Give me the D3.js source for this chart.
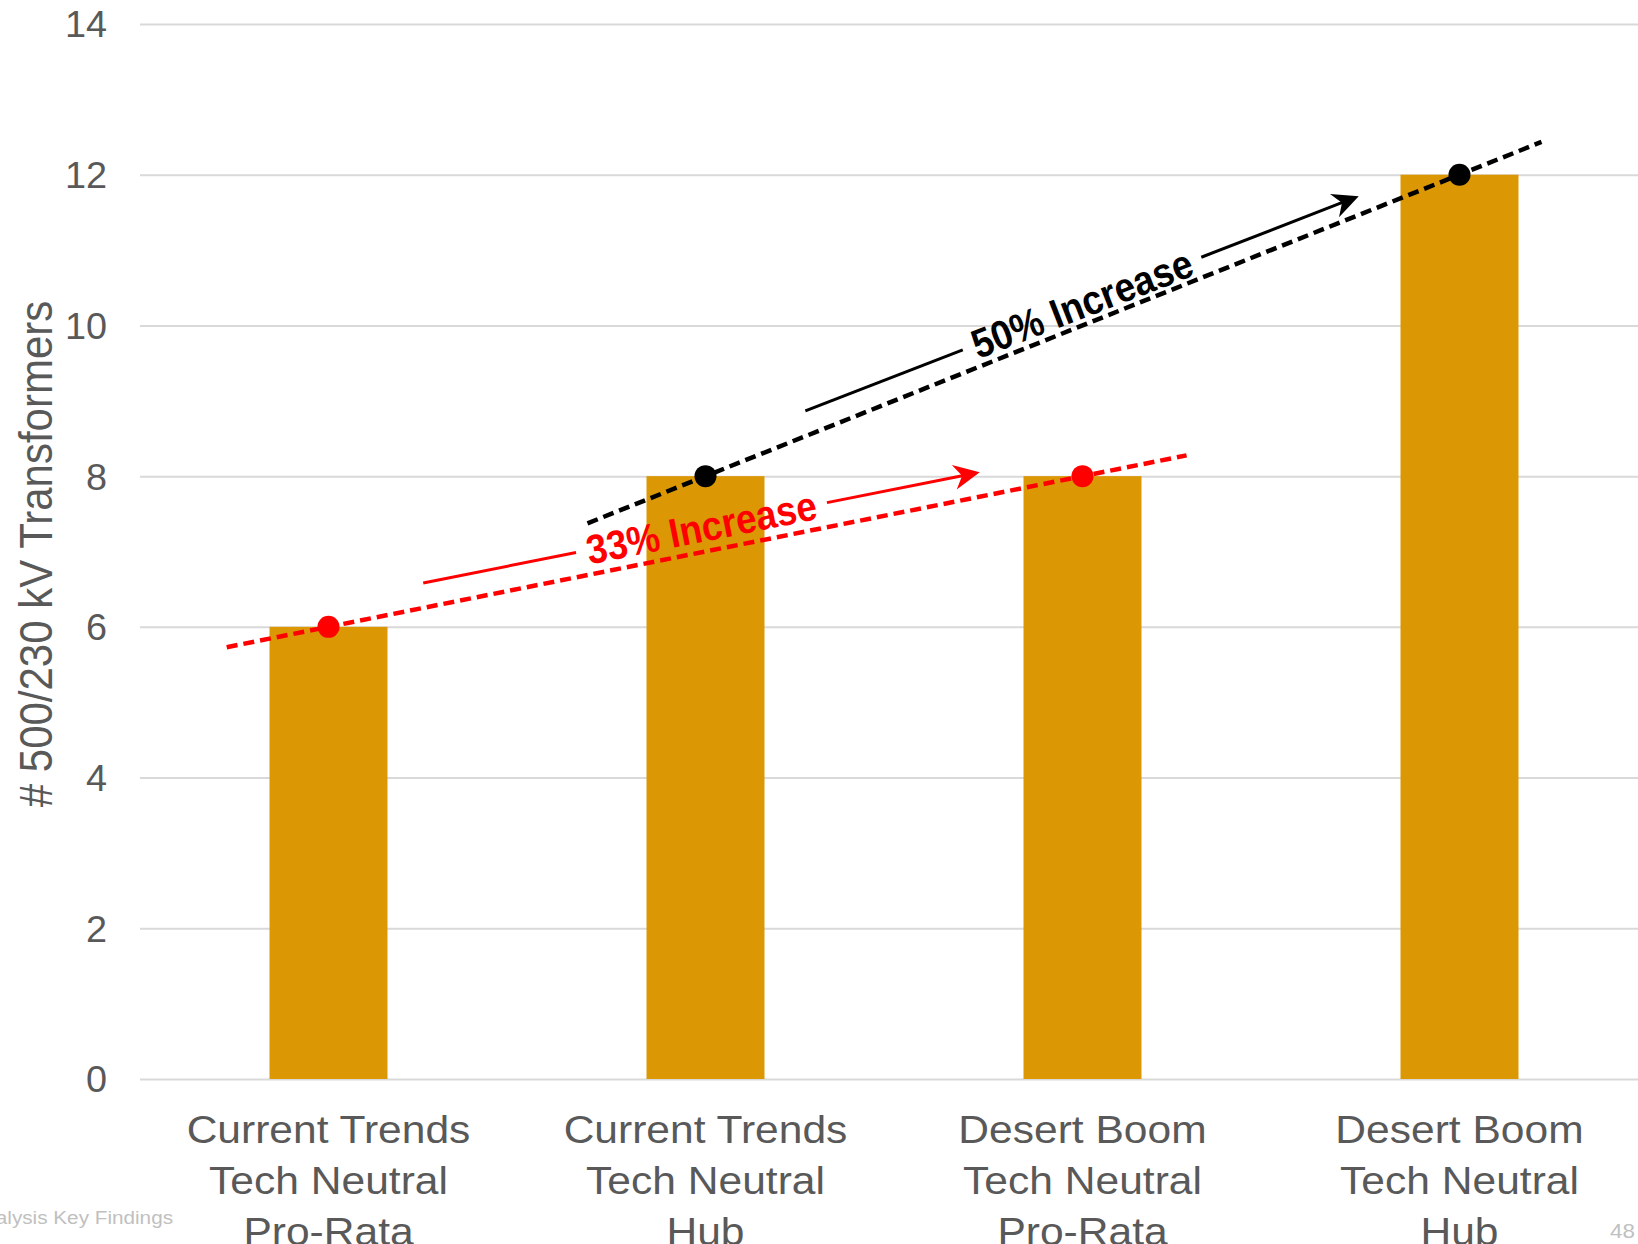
<!DOCTYPE html>
<html>
<head>
<meta charset="utf-8">
<script src="https://cdn.jsdelivr.net/npm/d3@7"></script>
<style>
  html, body { margin: 0; padding: 0; background: #fff; }
  svg { display: block; font-family: "Liberation Sans", Arial, Helvetica, sans-serif; }
</style>
</head>
<body>
<svg id="chart" width="1638" height="1244"></svg>
<script>
// ---- data ----
const categories = [
  ["Current Trends", "Tech Neutral", "Pro-Rata"],
  ["Current Trends", "Tech Neutral", "Hub"],
  ["Desert Boom", "Tech Neutral", "Pro-Rata"],
  ["Desert Boom", "Tech Neutral", "Hub"]
];
const transformers = [6, 8, 8, 12];
const yTickValues = [0, 2, 4, 6, 8, 10, 12, 14];
const yTitle = "# 500/230 kV Transformers";
// scenario pairs compared by the trend annotations (index into categories)
const comparisonFrom = [1, 0];
const comparisonTo = [3, 2];
const footerText = "Analysis Key Findings";
const pageNumber = "48";

// ---- layout & style ----
const W = 1638, H = 1244;
const plot = { left: 140, right: 1648, top: 24, bottom: 1079 };
const textStretch = 1.12;           // horizontal widening of axis type
const tickStretch = 1.05;
const textColor = "#595959";
const gridColor = "#d9d9d9";
const barColor = "#dc9704";
const annStyles = [
  { color: "#000000", ext: [-0.313, 0.2175], offset: [23.5, 17.5], span: [0.144, 0.875] },
  { color: "#ff0000", ext: [-0.27, 0.276], offset: [24.5, 24], span: [0.132, 0.87] }
];
const annFont = 41, annCondense = 0.9;

const svg = d3.select("#chart");

const x = d3.scaleBand()
  .domain(d3.range(categories.length))
  .range([plot.left, plot.right])
  .paddingInner(0.687)
  .paddingOuter(0.3435);
const y = d3.scaleLinear().domain([0, 14]).range([plot.bottom, plot.top]);
const cx = i => x(i) + x.bandwidth() / 2;

// ---- y axis with gridlines ----
const yAxis = svg.append("g")
  .attr("transform", `translate(${plot.left},0)`)
  .call(d3.axisLeft(y).tickValues(yTickValues).tickSize(-(W - plot.left)).tickFormat(d3.format("d")));
yAxis.select(".domain").remove();
yAxis.selectAll(".tick line").attr("stroke", gridColor).attr("stroke-width", 2);
yAxis.selectAll(".tick text")
  .attr("x", null).attr("dy", "0.36em")
  .attr("transform", `translate(-33,0) scale(${tickStretch},1)`)
  .attr("text-anchor", "end")
  .attr("fill", textColor)
  .style("font-size", "36px")
  .style("font-family", "'Liberation Sans', Arial, sans-serif");

// ---- bars ----
svg.append("g").selectAll("rect")
  .data(transformers)
  .join("rect")
  .attr("x", (d, i) => x(i))
  .attr("y", d => y(d))
  .attr("width", x.bandwidth())
  .attr("height", d => y(0) - y(d))
  .attr("fill", barColor);

// ---- x axis labels ----
const xAxis = svg.append("g")
  .attr("transform", `translate(0,${plot.bottom})`)
  .call(d3.axisBottom(x).tickSize(0).tickFormat(""));
xAxis.select(".domain").remove();
xAxis.selectAll(".tick").each(function (i) {
  const t = d3.select(this).append("text")
    .attr("transform", `translate(0,64) scale(${textStretch},1)`)
    .attr("text-anchor", "middle")
    .attr("fill", textColor)
    .style("font-size", "38px")
    .style("font-family", "'Liberation Sans', Arial, sans-serif");
  categories[i].forEach((line, k) => {
    t.append("tspan").attr("x", 0).attr("dy", k === 0 ? 0 : 51).text(line);
  });
});

// ---- y axis title ----
svg.append("text")
  .attr("transform", `translate(52,554) scale(${textStretch},1) rotate(-90)`)
  .attr("text-anchor", "middle")
  .attr("fill", textColor)
  .style("font-size", "42px")
  .text(yTitle);

// ---- trend annotations ----
const annLayer = svg.append("g");
comparisonFrom.forEach((from, k) => {
  const to = comparisonTo[k];
  const st = annStyles[k];
  const p1 = [cx(from), y(transformers[from])];
  const p2 = [cx(to), y(transformers[to])];
  const dx = p2[0] - p1[0], dy = p2[1] - p1[1];
  const m = dy / dx;
  const step = x.step();
  const x0 = p1[0] + st.ext[0] * step, x1 = p2[0] + st.ext[1] * step;

  // dashed trend line through the two bar tops
  annLayer.append("path")
    .attr("d", d3.line()([[x0, p1[1] + (x0 - p1[0]) * m], [x1, p1[1] + (x1 - p1[0]) * m]]))
    .attr("stroke", st.color).attr("stroke-width", 4.5)
    .attr("stroke-dasharray", "11,6").attr("fill", "none");

  // markers at the bar tops
  annLayer.selectAll(null).data([p1, p2]).join("circle")
    .attr("cx", d => d[0]).attr("cy", d => d[1]).attr("r", 11)
    .attr("fill", st.color);

  // offset arrow above the trend, carrying the percentage label
  const len = Math.hypot(dx, dy);
  const n = [dy / len, -dx / len];     // normal pointing up
  const along = (t, off) => [p1[0] + dx * t + n[0] * off, p1[1] + dy * t + n[1] * off];
  const a0 = along(st.span[0], st.offset[0]);
  const a1 = along(st.span[1], st.offset[1]);
  const alen = Math.hypot(a1[0] - a0[0], a1[1] - a0[1]);
  const u = [(a1[0] - a0[0]) / alen, (a1[1] - a0[1]) / alen];
  const v = [u[1], -u[0]];
  const mid = [(a0[0] + a1[0]) / 2, (a0[1] + a1[1]) / 2];
  const angle = Math.atan2(u[1], u[0]) * 180 / Math.PI;
  const pct = Math.round((transformers[to] / transformers[from] - 1) * 100);
  const label = annLayer.append("text")
    .attr("transform", `translate(${mid[0]},${mid[1]}) rotate(${angle}) scale(${annCondense},1)`)
    .attr("text-anchor", "middle").attr("dy", "0.35em")
    .attr("fill", st.color)
    .style("font-size", annFont + "px").style("font-weight", "bold")
    .text(`${pct}% Increase`);
  const L = label.node().getComputedTextLength() * annCondense;
  const gap = L / 2 + 11;
  const g0 = [mid[0] - u[0] * gap, mid[1] - u[1] * gap];
  const g1 = [mid[0] + u[0] * gap, mid[1] + u[1] * gap];
  const tipBack = [a1[0] - u[0] * 14, a1[1] - u[1] * 14];
  annLayer.append("path").attr("d", d3.line()([a0, g0]))
    .attr("stroke", st.color).attr("stroke-width", 3).attr("fill", "none");
  annLayer.append("path").attr("d", d3.line()([g1, tipBack]))
    .attr("stroke", st.color).attr("stroke-width", 3).attr("fill", "none");
  const hl = 26, hw = 12.5, notch = 18;
  const head = [
    a1,
    [a1[0] - u[0] * hl + v[0] * hw, a1[1] - u[1] * hl + v[1] * hw],
    [a1[0] - u[0] * notch, a1[1] - u[1] * notch],
    [a1[0] - u[0] * hl - v[0] * hw, a1[1] - u[1] * hl - v[1] * hw]
  ];
  annLayer.append("path").attr("d", d3.line()(head) + "Z").attr("fill", st.color);
});

// ---- page footer ----
svg.append("text")
  .attr("transform", `translate(173,1224) scale(${textStretch},1)`)
  .attr("text-anchor", "end").attr("fill", "#c0c0c0")
  .style("font-size", "18.5px").text(footerText);
svg.append("text")
  .attr("transform", `translate(1635,1238) scale(${textStretch},1)`)
  .attr("text-anchor", "end").attr("fill", "#c0c0c0")
  .style("font-size", "20px").text(pageNumber);
</script>
</body>
</html>
